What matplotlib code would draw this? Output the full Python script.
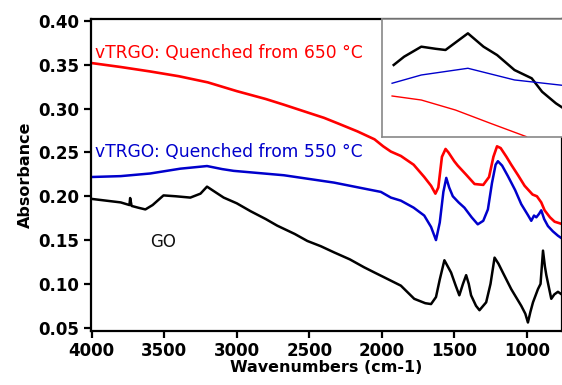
#!/usr/bin/env python3
"""
FTIR spectra of GO and vTRGO quenched from 550 / 650 C.
"""

import matplotlib.pyplot as plt

# spectra (wavenumber cm-1, absorbance)
wn_650 = [4000, 3800, 3600, 3400, 3200, 3000, 2800, 2675, 2500, 2398, 2300, 2167, 2050, 1990, 1937,
          1868, 1780, 1707, 1660, 1630, 1610, 1585, 1560, 1540, 1500, 1476, 1420, 1360, 1300, 1260,
          1230, 1205, 1180, 1140, 1107, 1060, 1015, 960, 930, 900, 877, 840, 808, 750]
abs_650 = [0.352, 0.3475, 0.3425, 0.337, 0.330, 0.320, 0.311, 0.3045, 0.295, 0.2895, 0.283, 0.274,
           0.265, 0.257, 0.251, 0.246, 0.236, 0.222, 0.212, 0.203, 0.210, 0.245, 0.254, 0.250,
           0.240, 0.235, 0.225, 0.214, 0.213, 0.222, 0.245, 0.257, 0.255, 0.245, 0.236, 0.224,
           0.212, 0.202, 0.200, 0.193, 0.184, 0.176, 0.171, 0.168]

wn_550 = [4000, 3800, 3597, 3389, 3205, 3100, 3021, 2675, 2329, 2098, 2006, 1937, 1868, 1780,
          1707, 1660, 1626, 1600, 1575, 1555, 1535, 1510, 1470, 1430, 1380, 1338, 1300, 1268,
          1240, 1215, 1199, 1170, 1130, 1080, 1038, 990, 969, 950, 934, 915, 900, 880, 854, 820,
          785, 750]
abs_550 = [0.222, 0.223, 0.226, 0.2315, 0.2345, 0.231, 0.229, 0.224, 0.2156, 0.208, 0.205, 0.1985,
           0.195, 0.187, 0.178, 0.165, 0.150, 0.170, 0.205, 0.221, 0.210, 0.200, 0.193, 0.187,
           0.176, 0.168, 0.172, 0.185, 0.215, 0.236, 0.240, 0.235, 0.223, 0.207, 0.191, 0.178,
           0.172, 0.178, 0.176, 0.180, 0.184, 0.174, 0.166, 0.160, 0.155, 0.151]

wn_go = [4000, 3900, 3800, 3740, 3735, 3725, 3680, 3630, 3580, 3505, 3420, 3320, 3250, 3205, 3150,
         3090, 3000, 2905, 2800, 2721, 2600, 2513, 2420, 2329, 2220, 2122, 2050, 1983, 1868, 1776,
         1700, 1660, 1626, 1600, 1568, 1545, 1522, 1490, 1465, 1440, 1418, 1400, 1384, 1350, 1326,
         1280, 1250, 1222, 1195, 1165, 1107, 1038, 1010, 992, 975, 957, 923, 905, 888, 875, 865,
         831, 810, 785, 750]
abs_go = [0.197, 0.195, 0.193, 0.190, 0.198, 0.189, 0.187, 0.185, 0.190, 0.201, 0.200, 0.1985, 0.203,
          0.211, 0.205, 0.1985, 0.192, 0.183, 0.174, 0.1665, 0.157, 0.149, 0.143, 0.136, 0.128,
          0.119, 0.113, 0.1075, 0.098, 0.083, 0.078, 0.077, 0.085, 0.105, 0.127, 0.120, 0.113,
          0.098, 0.087, 0.100, 0.110, 0.100, 0.087, 0.075, 0.070, 0.079, 0.100, 0.130, 0.123,
          0.113, 0.094, 0.075, 0.066, 0.056, 0.068, 0.079, 0.094, 0.100, 0.138, 0.120, 0.110,
          0.083, 0.088, 0.091, 0.087]

# inset (magnified O-H region), in inset axes units
ins_go_x = [0.06, 0.112, 0.198, 0.27, 0.319, 0.431, 0.509, 0.577, 0.664, 0.750, 0.802, 0.871, 0.922, 1.0]
ins_go_y = [0.613, 0.683, 0.768, 0.75, 0.74, 0.881, 0.768, 0.697, 0.570, 0.5, 0.386, 0.288, 0.231, 0.2]
ins_550_x = [0.052, 0.198, 0.431, 0.664, 0.933, 1.0]
ins_550_y = [0.458, 0.528, 0.585, 0.486, 0.435, 0.43]
ins_650_x = [0.052, 0.198, 0.369, 0.543, 0.724]
ins_650_y = [0.35, 0.316, 0.231, 0.119, 0.005]

fig = plt.figure(figsize=(5.62, 3.85), dpi=100)
ax = fig.add_axes([0.1614, 0.141, 0.8386, 0.809])

ax.plot(wn_go, abs_go, color="black", lw=1.8)
ax.plot(wn_550, abs_550, color="#0000cc", lw=1.8)
ax.plot(wn_650, abs_650, color="red", lw=1.9)

ax.set_xlim(4007, 757)
ax.set_ylim(0.0466, 0.402)
ax.set_xticks([4000, 3500, 3000, 2500, 2000, 1500, 1000])
ax.set_yticks([0.05, 0.10, 0.15, 0.20, 0.25, 0.30, 0.35, 0.40])
ax.set_yticklabels(["0.05", "0.10", "0.15", "0.20", "0.25", "0.30", "0.35", "0.40"])

for s in ax.spines.values():
    s.set_linewidth(1.6)
ax.tick_params(direction="out", length=5, width=1.6, pad=3)
for lab in ax.get_xticklabels() + ax.get_yticklabels():
    lab.set_fontweight("bold")
    lab.set_fontsize(12)
    lab.set_family("DejaVu Sans")

ax.set_xlabel("Wavenumbers (cm-1)", fontsize=11.5, fontweight="bold", family="DejaVu Sans", labelpad=0)
ax.set_ylabel("Absorbance", fontsize=11.5, fontweight="bold", family="DejaVu Sans", labelpad=4)

ax.text(3977, 0.3578, "vTRGO: Quenched from 650 \u00b0C", color="red", fontsize=12.3,
        family="DejaVu Sans")
ax.text(3977, 0.2445, "vTRGO: Quenched from 550 \u00b0C", color="#0000cc", fontsize=12.3,
        family="DejaVu Sans")
ax.text(3597, 0.142, "GO", color="#111111", fontsize=12, family="DejaVu Sans")

# inset box
ins = fig.add_axes([381.7 / 562, 1 - 137.3 / 385, 200 / 562, 118 / 385])
ins.set_zorder(5)
ins.set_facecolor("white")
ins.plot(ins_go_x, ins_go_y, color="black", lw=1.8)
ins.plot(ins_550_x, ins_550_y, color="#0000cc", lw=1.0)
ins.plot(ins_650_x, ins_650_y, color="red", lw=1.0)
ins.set_xlim(0, 1)
ins.set_ylim(0, 1)
ins.set_xticks([])
ins.set_yticks([])
for s in ins.spines.values():
    s.set_color("#888888")
    s.set_linewidth(1.2)

plt.savefig("out.png", dpi=100)
